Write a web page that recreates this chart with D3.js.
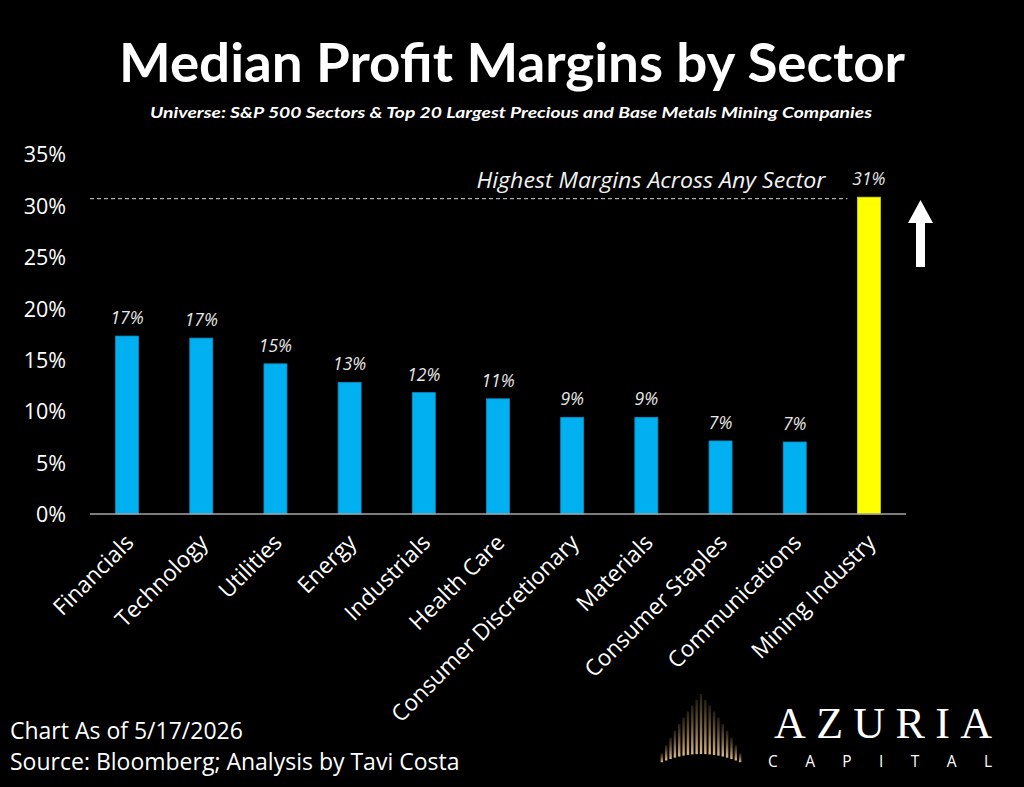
<!DOCTYPE html>
<html>
<head>
<meta charset="utf-8">
<script src="https://cdn.jsdelivr.net/npm/d3@7"></script>
<style>
  html, body { margin: 0; padding: 0; background: #000; }
  svg { display: block; }
</style>
</head>
<body>
<div id="chart"></div>
<script>
(function () {
    var width = 1024, height = 787;

    // chart data
    var sectors = ["Financials", "Technology", "Utilities", "Energy", "Industrials", "Health Care",
        "Consumer Discretionary", "Materials", "Consumer Staples", "Communications", "Mining Industry"];
    var margins = [17.3, 17.1, 14.6, 12.8, 11.8, 11.2, 9.4, 9.4, 7.1, 7.0, 30.8];
    var highlight = "Mining Industry";
    var yTicks = [0, 5, 10, 15, 20, 25, 30, 35];

    var data = sectors.map(function (s, i) {
        return { sector: s, value: margins[i] };
    });

    var svg = d3.select("#chart")
        .append("svg")
        .attr("width", width)
        .attr("height", height);

    svg.append("rect")
        .attr("width", width)
        .attr("height", height)
        .attr("fill", "#000");

    // titles
    svg.append("text")
        .attr("x", 512)
        .attr("y", 82)
        .attr("text-anchor", "middle")
        .attr("font-family", "Lato, 'Open Sans', sans-serif")
        .attr("font-weight", "bold")
        .attr("font-size", 54)
        .attr("fill", "#fff")
        .attr("textLength", 786)
        .attr("lengthAdjust", "spacingAndGlyphs")
        .text("Median Profit Margins by Sector");

    svg.append("text")
        .attr("x", 511)
        .attr("y", 118)
        .attr("text-anchor", "middle")
        .attr("font-family", "Lato, 'Open Sans', sans-serif")
        .attr("font-weight", "bold")
        .attr("font-style", "italic")
        .attr("font-size", 16)
        .attr("fill", "#fff")
        .attr("textLength", 722)
        .attr("lengthAdjust", "spacingAndGlyphs")
        .text("Universe: S&P 500 Sectors & Top 20 Largest Precious and Base Metals Mining Companies");

    var x = d3.scaleBand()
        .domain(sectors)
        .range([90, 906])
        .paddingInner(0.69)
        .paddingOuter(0.345);

    var y = d3.scaleLinear()
        .domain([0, 35])
        .range([514, 154]);

    // y axis labels only
    var yAxis = svg.append("g")
        .attr("transform", "translate(66,0)")
        .call(d3.axisLeft(y).tickValues(yTicks).tickSize(0).tickPadding(0)
            .tickFormat(function (d) { return d + "%"; }));
    yAxis.select(".domain").remove();
    yAxis.selectAll("text")
        .attr("fill", "#fff")
        .attr("font-family", "'Open Sans', sans-serif")
        .attr("font-size", 21.5)
        .attr("dy", "0.36em");

    // reference line at the mining value
    var top = data.find(function (d) { return d.sector == highlight; });

    svg.append("line")
        .attr("x1", 90)
        .attr("x2", x(highlight) - 10)
        .attr("y1", y(top.value) + 1.5)
        .attr("y2", y(top.value) + 1.5)
        .attr("stroke", "#d9d9d9")
        .attr("stroke-width", 1)
        .attr("stroke-dasharray", "4,3");

    svg.append("text")
        .attr("x", 651)
        .attr("y", 188)
        .attr("text-anchor", "middle")
        .attr("font-family", "'Open Sans', sans-serif")
        .attr("font-style", "italic")
        .attr("font-size", 22)
        .attr("fill", "#f2f2f2")
        .attr("textLength", 349)
        .attr("lengthAdjust", "spacingAndGlyphs")
        .text("Highest Margins Across Any Sector");

    // bars
    svg.append("g")
        .selectAll("rect")
        .data(data)
        .join("rect")
        .attr("x", d => x(d.sector))
        .attr("y", d => y(d.value))
        .attr("width", x.bandwidth())
        .attr("height", d => y(0) - y(d.value))
        .attr("fill", d => d.sector == highlight ? "#ffff00" : "#00b0f0")
        .attr("stroke", d => d.sector == highlight ? "#d8d800" : "#0a8fc4")
        .attr("stroke-width", 0.8);

    // value labels
    svg.append("g")
        .selectAll("text")
        .data(data)
        .join("text")
        .attr("x", d => x(d.sector) + x.bandwidth() / 2)
        .attr("y", d => y(d.value) - 12)
        .attr("text-anchor", "middle")
        .attr("font-family", "'Open Sans', sans-serif")
        .attr("font-style", "italic")
        .attr("font-size", 17.5)
        .attr("fill", "#e8e8e8")
        .text(d => Math.round(d.value) + "%");

    // baseline
    svg.append("line")
        .attr("x1", 90)
        .attr("x2", 906)
        .attr("y1", y(0))
        .attr("y2", y(0))
        .attr("stroke", "#a6a6a6")
        .attr("stroke-width", 1.5);

    // category labels
    svg.append("g")
        .selectAll("text")
        .data(sectors)
        .join("text")
        .attr("transform", d => "translate(" + (x(d) + x.bandwidth() / 2 + 8) + "," + 544 + ") rotate(-45)")
        .attr("text-anchor", "end")
        .attr("font-family", "'Open Sans', sans-serif")
        .attr("font-size", 22.5)
        .attr("fill", "#fff")
        .text(d => d);

    // up arrow
    var ax = 920.5;
    svg.append("path")
        .attr("d", d3.line()([
            [ax - 4.5, 267], [ax - 4.5, 223], [ax - 12.5, 223], [ax, 200],
            [ax + 12.5, 223], [ax + 4.5, 223], [ax + 4.5, 267]
        ]) + "Z")
        .attr("fill", "#fff");

    // footer
    svg.append("text")
        .attr("x", 10)
        .attr("y", 739)
        .attr("font-family", "'Open Sans', sans-serif")
        .attr("font-size", 23)
        .attr("fill", "#fff")
        .text("Chart As of 5/17/2026");

    svg.append("text")
        .attr("x", 10)
        .attr("y", 770)
        .attr("font-family", "'Open Sans', sans-serif")
        .attr("font-size", 23)
        .attr("fill", "#fff")
        .text("Source: Bloomberg; Analysis by Tavi Costa");

    // logo: gold fan
    var defs = svg.append("defs");
    var grad = defs.append("linearGradient")
        .attr("id", "gold")
        .attr("x1", 0).attr("y1", 1).attr("x2", 0).attr("y2", 0)
        .attr("gradientUnits", "objectBoundingBox");
    grad.append("stop").attr("offset", "0%").attr("stop-color", "#e0ba84").attr("stop-opacity", 1);
    grad.append("stop").attr("offset", "100%").attr("stop-color", "#9a7848").attr("stop-opacity", 0.25);

    var fanCx = 701, fanPeak = 694, fanHalf = 41;
    var fan = svg.append("g");
    d3.range(-9, 10).forEach(function (i) {
        var fx = fanCx + i * 4.35;
        var t = Math.abs(fx - fanCx) / fanHalf;
        var base = 754 + 9 * t * t;
        var tip = fanPeak + (base - 6 - fanPeak) * t;
        fan.append("rect")
            .attr("x", fx - 1.2)
            .attr("y", tip)
            .attr("width", 2.4)
            .attr("height", Math.max(base - tip, 2))
            .attr("fill", "url(#gold)");
    });

    svg.append("text")
        .attr("x", 774)
        .attr("y", 738)
        .attr("font-family", "'Liberation Serif', 'DejaVu Serif', serif")
        .attr("font-size", 44)
        .attr("fill", "#fff")
        .attr("textLength", 218)
        .attr("lengthAdjust", "spacing")
        .text("AZURIA");

    svg.append("text")
        .attr("x", 768)
        .attr("y", 767)
        .attr("font-family", "'Open Sans', sans-serif")
        .attr("font-size", 15.5)
        .attr("fill", "#fff")
        .attr("textLength", 224)
        .attr("lengthAdjust", "spacing")
        .text("CAPITAL");
})();
</script>
</body>
</html>
